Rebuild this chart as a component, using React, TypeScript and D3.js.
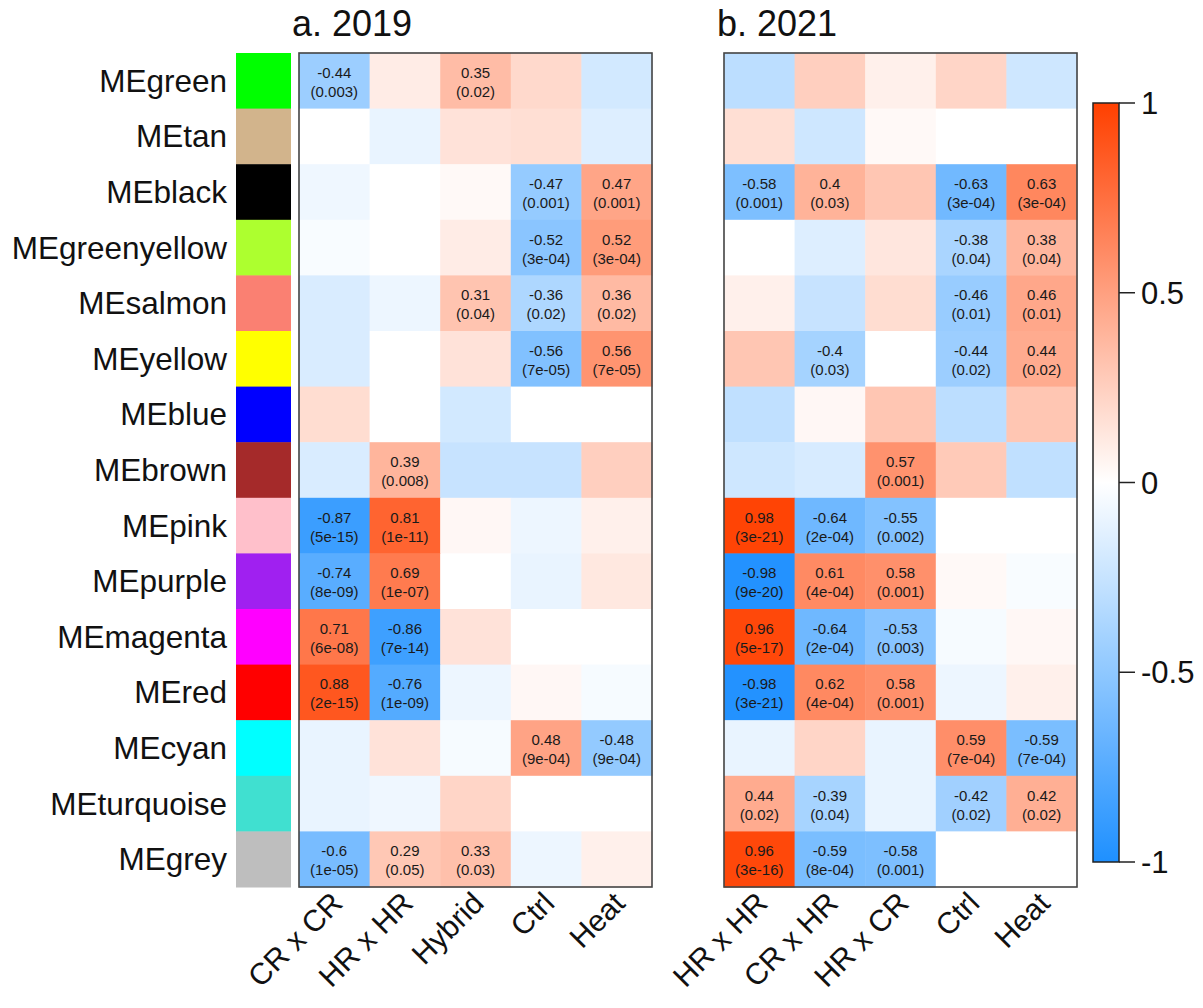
import React from "react";
import * as d3 from "d3";

const modules = ["MEgreen","MEtan","MEblack","MEgreenyellow","MEsalmon","MEyellow","MEblue","MEbrown","MEpink","MEpurple","MEmagenta","MEred","MEcyan","MEturquoise","MEgrey"];
const moduleColors = ["#00FF00","#D2B48C","#000000","#ADFF2F","#FA8072","#FFFF00","#0000FF","#A52A2A","#FFC0CB","#A020F0","#FF00FF","#FF0000","#00FFFF","#40E0D0","#BEBEBE"];

const cols2019 = ["CR x CR","HR x HR","Hybrid","Ctrl","Heat"];
const cols2021 = ["HR x HR","CR x HR","HR x CR","Ctrl","Heat"];

const cor2019 = [
  [-0.44, 0.1, 0.35, 0.2, -0.2],
  [0, -0.1, 0.15, 0.17, -0.15],
  [-0.07, 0, 0.03, -0.47, 0.47],
  [-0.03, 0, 0.1, -0.52, 0.52],
  [-0.17, -0.08, 0.31, -0.36, 0.36],
  [-0.17, 0, 0.15, -0.56, 0.56],
  [0.18, 0, -0.2, 0, 0],
  [-0.17, 0.39, -0.25, -0.25, 0.25],
  [-0.87, 0.81, 0.04, -0.08, 0.08],
  [-0.74, 0.69, 0, -0.1, 0.12],
  [0.71, -0.86, 0.15, 0, 0],
  [0.88, -0.76, -0.08, 0.04, -0.04],
  [-0.1, 0.15, -0.04, 0.48, -0.48],
  [-0.1, -0.07, 0.22, 0, 0],
  [-0.6, 0.29, 0.33, -0.08, 0.08],
];
const p2019 = [
  ["0.003", null, "0.02", null, null],
  [null, null, null, null, null],
  [null, null, null, "0.001", "0.001"],
  [null, null, null, "3e-04", "3e-04"],
  [null, null, "0.04", "0.02", "0.02"],
  [null, null, null, "7e-05", "7e-05"],
  [null, null, null, null, null],
  [null, "0.008", null, null, null],
  ["5e-15", "1e-11", null, null, null],
  ["8e-09", "1e-07", null, null, null],
  ["6e-08", "7e-14", null, null, null],
  ["2e-15", "1e-09", null, null, null],
  [null, null, null, "9e-04", "9e-04"],
  [null, null, null, null, null],
  ["1e-05", "0.05", "0.03", null, null],
];

const cor2021 = [
  [-0.3, 0.25, 0.08, 0.22, -0.22],
  [0.17, -0.22, 0.03, 0, 0],
  [-0.58, 0.4, 0.3, -0.63, 0.63],
  [0, -0.15, 0.13, -0.38, 0.38],
  [0.08, -0.25, 0.18, -0.46, 0.46],
  [0.3, -0.4, 0, -0.44, 0.44],
  [-0.28, 0.04, 0.3, -0.3, 0.3],
  [-0.22, -0.18, 0.57, 0.28, -0.28],
  [0.98, -0.64, -0.55, 0, 0],
  [-0.98, 0.61, 0.58, 0.03, -0.03],
  [0.96, -0.64, -0.53, -0.04, 0.04],
  [-0.98, 0.62, 0.58, -0.08, 0.08],
  [-0.1, 0.22, -0.1, 0.59, -0.59],
  [0.44, -0.39, -0.1, -0.42, 0.42],
  [0.96, -0.59, -0.58, 0, 0],
];
const p2021 = [
  [null, null, null, null, null],
  [null, null, null, null, null],
  ["0.001", "0.03", null, "3e-04", "3e-04"],
  [null, null, null, "0.04", "0.04"],
  [null, null, null, "0.01", "0.01"],
  [null, "0.03", null, "0.02", "0.02"],
  [null, null, null, null, null],
  [null, null, "0.001", null, null],
  ["3e-21", "2e-04", "0.002", null, null],
  ["9e-20", "4e-04", "0.001", null, null],
  ["5e-17", "2e-04", "0.003", null, null],
  ["3e-21", "4e-04", "0.001", null, null],
  [null, null, null, "7e-04", "7e-04"],
  ["0.02", "0.04", null, "0.02", "0.02"],
  ["3e-16", "8e-04", "0.001", null, null],
];

const colorTicks = [1, 0.5, 0, -0.5, -1];

const FONT = "'Liberation Sans', Arial, Helvetica, sans-serif";
const color = d3.scaleLinear<string>().domain([-1, 0, 1]).range(["#1E90FF", "#FFFFFF", "#FF4000"]).interpolate(d3.interpolateRgb);

const TOP = 53;
const BOTTOM = 887;
const y = d3.scaleBand<string>().domain(modules).range([TOP, BOTTOM]).padding(0);

function Panel({ x0, cols, cor, p, title }: { x0: number; cols: string[]; cor: number[][]; p: (string | null)[][]; title: string }) {
  const x = d3.scaleBand<string>().domain(cols).range([x0, x0 + 353]).padding(0);
  const bw = x.bandwidth();
  const bh = y.bandwidth();
  return (
    <g>
      <text x={x0 - 7} y={36} fontSize={36} fontFamily={FONT} fill="#111">{title}</text>
      {modules.map((m, i) =>
        cols.map((c, j) => (
          <rect key={m + c} x={x(c)!} y={y(m)!} width={bw + 0.5} height={bh + 0.5} fill={color(cor[i][j])} />
        ))
      )}
      {modules.map((m, i) =>
        cols.map((c, j) =>
          p[i][j] ? (
            <text key={"t" + m + c} x={x(c)! + bw / 2} y={y(m)! + bh / 2} textAnchor="middle" fontSize={15} fontFamily={FONT} fill="#1a1a1a">
              <tspan x={x(c)! + bw / 2} dy={-3}>{String(cor[i][j])}</tspan>
              <tspan x={x(c)! + bw / 2} dy={19}>{"(" + p[i][j] + ")"}</tspan>
            </text>
          ) : null
        )
      )}
      <rect x={x0} y={TOP} width={353} height={BOTTOM - TOP} fill="none" stroke="#444" strokeWidth={1.6} />
      {cols.map((c) => {
        const cx = x(c)! + bw / 2 + 10;
        const cy = 905;
        return (
          <text key={"xl" + c} transform={`translate(${cx},${cy}) rotate(-45)`} textAnchor="end" fontSize={30} fontFamily={FONT} fill="#111">{c}</text>
        );
      })}
    </g>
  );
}

export default function App() {
  const cbTop = 103, cbBot = 862, cbX = 1093, cbW = 26;
  const cy = d3.scaleLinear().domain([-1, 1]).range([cbBot, cbTop]);
  const stops = d3.range(0, 21).map((k) => -1 + k * 0.1);
  return (
    <svg width={1203} height={1008} style={{ position: "absolute", left: 0, top: 0, background: "#fff" }}>
      <defs>
        <linearGradient id="cbgrad" x1="0" y1="1" x2="0" y2="0">
          {stops.map((s) => (
            <stop key={s} offset={(s + 1) / 2} stopColor={color(s)} />
          ))}
        </linearGradient>
      </defs>
      {modules.map((m, i) => (
        <g key={m}>
          <rect x={236} y={y(m)!} width={55} height={y.bandwidth() + 0.5} fill={moduleColors[i]} />
          <text x={227} y={y(m)! + y.bandwidth() / 2 + 11} textAnchor="end" fontSize={31.5} fontFamily={FONT} fill="#111">{m}</text>
        </g>
      ))}
      <Panel x0={299} cols={cols2019} cor={cor2019} p={p2019} title="a. 2019" />
      <Panel x0={724} cols={cols2021} cor={cor2021} p={p2021} title="b. 2021" />
      <rect x={cbX} y={cbTop} width={cbW} height={cbBot - cbTop} fill="url(#cbgrad)" stroke="#222" strokeWidth={1.5} />
      {colorTicks.map((t) => (
        <g key={t}>
          <line x1={cbX + cbW} x2={cbX + cbW + 16} y1={cy(t)} y2={cy(t)} stroke="#222" strokeWidth={1.5} />
          <text x={cbX + cbW + 22} y={cy(t) + 11} fontSize={31} fontFamily={FONT} fill="#111">{String(t)}</text>
        </g>
      ))}
    </svg>
  );
}
